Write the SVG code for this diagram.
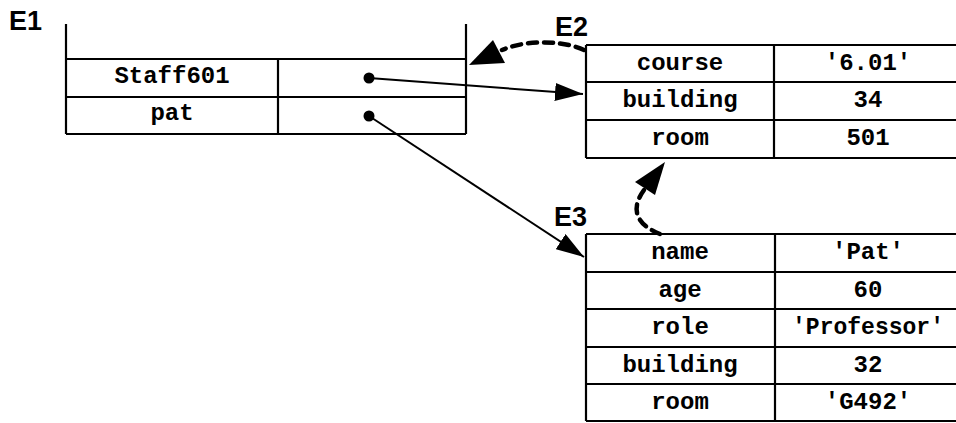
<svg xmlns="http://www.w3.org/2000/svg" width="956" height="423" viewBox="0 0 956 423">
<defs>
<style>
.ln{stroke:#000;stroke-width:2.2;fill:none}
.t{font-family:"Liberation Mono","Courier New",monospace;font-weight:bold;font-size:24px;text-anchor:middle;fill:#000}
.lbl{font-family:"Liberation Sans",Arial,Helvetica,sans-serif;font-weight:bold;font-size:27px;fill:#000}
.con{stroke:#000;stroke-width:2;fill:none}
.dash{stroke:#000;stroke-width:4.5;fill:none;stroke-dasharray:9 7;stroke-linecap:round}
</style>
<marker id="ah" viewBox="0 0 28 18" refX="28" refY="9" markerWidth="28" markerHeight="18" markerUnits="userSpaceOnUse" orient="auto">
<path d="M0,0 L28,9 L0,18 Z" fill="#000"/>
</marker>
</defs>
<rect width="956" height="423" fill="#fff"/>

<g id="E1">
<text class="lbl" x="9" y="30">E1</text>
<path class="ln" d="M66,24 V134 M466,24 V134 M66,59 H466 M66,97 H466 M66,134 H466 M278,59 V134"/>
<text class="t" x="172" y="83">Staff601</text>
<text class="t" x="172" y="120">pat</text>
</g>

<g id="E2">
<text class="lbl" x="555" y="36">E2</text>
<path class="ln" d="M586,45 H970 M586,82 H970 M586,120 H970 M586,158 H970 M586,45 V158 M774,45 V158"/>
<text class="t" x="680" y="70">course</text>
<text class="t" x="868" y="70">'6.01'</text>
<text class="t" x="680" y="107">building</text>
<text class="t" x="868" y="107">34</text>
<text class="t" x="680" y="145">room</text>
<text class="t" x="868" y="145">501</text>
</g>

<g id="E3">
<text class="lbl" x="554" y="226">E3</text>
<path class="ln" d="M586,234 H970 M586,272 H970 M586,309 H970 M586,347 H970 M586,384 H970 M586,421 H970 M586,234 V421 M775,234 V421"/>
<text class="t" x="680" y="259">name</text>
<text class="t" x="868" y="259">'Pat'</text>
<text class="t" x="680" y="297">age</text>
<text class="t" x="868" y="297">60</text>
<text class="t" x="680" y="334">role</text>
<text class="t" x="868" y="334" textLength="152" lengthAdjust="spacingAndGlyphs">'Professor'</text>
<text class="t" x="680" y="372">building</text>
<text class="t" x="868" y="372">32</text>
<text class="t" x="680" y="409">room</text>
<text class="t" x="868" y="409">'G492'</text>
</g>

<g id="connectors">
<circle cx="369" cy="78" r="5.5" fill="#000"/>
<circle cx="369" cy="116" r="5.5" fill="#000"/>
<line class="con" x1="369" y1="78" x2="583" y2="94" marker-end="url(#ah)"/>
<line class="con" x1="369" y1="116" x2="584" y2="257" marker-end="url(#ah)"/>
<path class="dash" d="M584,50 C568,42 530,38 502,50"/>
<polygon points="469,65 493,40 505,63" fill="#000"/>
<path class="dash" d="M660,234 C640,226 628,212 644,190"/>
<polygon points="665,162 635,182 655,195" fill="#000"/>
</g>
</svg>
